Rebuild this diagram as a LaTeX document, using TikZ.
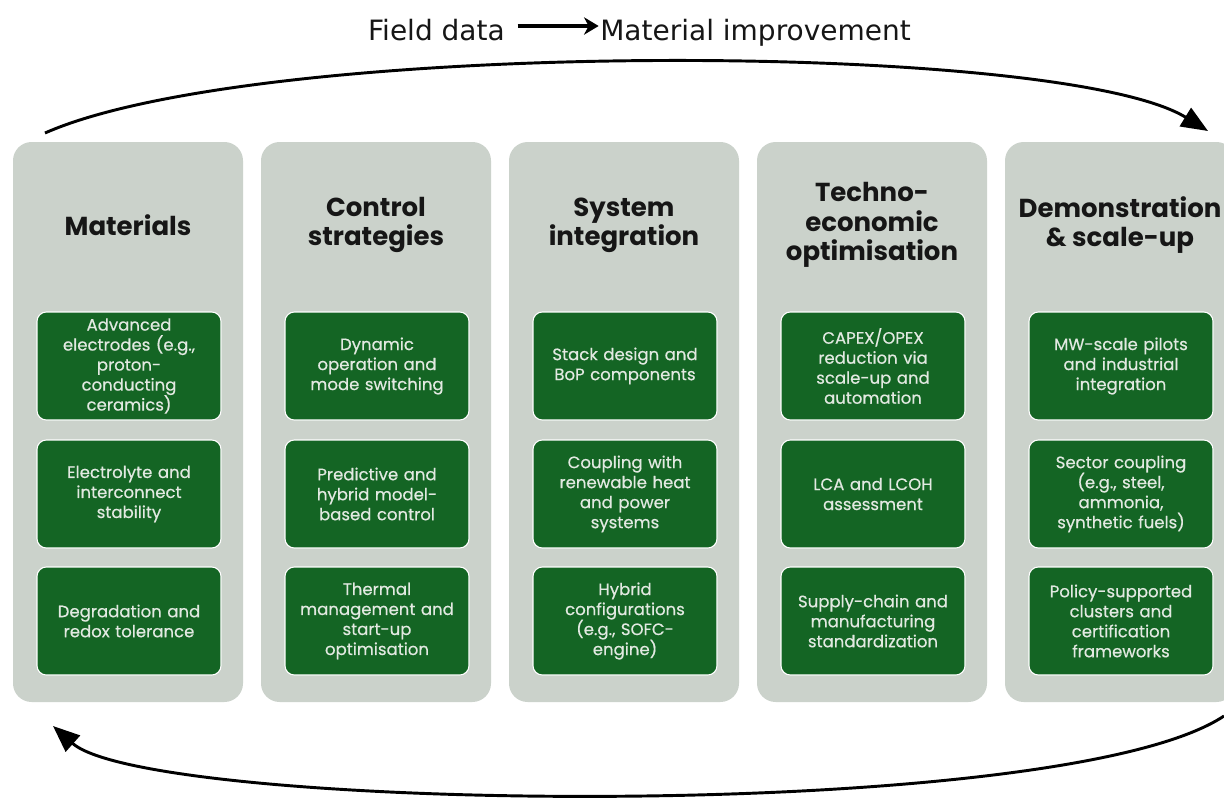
\documentclass[tikz,border=0pt]{standalone}
\usepackage{fontspec}
\setmainfont{Poppins}
\newfontfamily\boxfont{Poppins}[FakeBold=0.5]
\newfontfamily\headfont{DejaVu Sans}
\usetikzlibrary{arrows.meta}
\definecolor{panelgray}{RGB}{203,210,203}
\definecolor{boxgreen}{RGB}{20,101,36}
\definecolor{boxtext}{RGB}{226,233,225}
\definecolor{titleink}{RGB}{22,22,22}
\tikzset{
  panel/.style={fill=panelgray, draw=none, rounded corners=14pt,
    minimum width=172.5pt, minimum height=420pt, inner sep=0pt},
  coltitle/.style={font=\fontsize{19.5}{22}\selectfont\bfseries, text=titleink,
    align=center, inner sep=0pt},
  itembox/.style={fill=boxgreen, draw=white, line width=0.8pt, rounded corners=7pt,
    minimum width=138pt, minimum height=81pt, inner sep=1pt, text width=136pt,
    align=center, text=boxtext, font=\boxfont\fontsize{12.4}{15}\selectfont},
  loop/.style={line width=2.2pt, -{Triangle[length=20pt,width=16pt]}},
  heading/.style={font=\headfont\fontsize{21}{25}\selectfont, inner sep=0pt, text=titleink},
}
\begin{document}
\begin{tikzpicture}[x=0.75pt,y=-0.75pt]
\useasboundingbox (0,0) rectangle (1224,797);
\fill[white] (0,0) rectangle (1224,797);

% heading
\node[heading, anchor=base east] (fd) at (505,40) {Field data};
\node[heading, anchor=base west] (mi) at (600,40) {Material improvement};
\draw[line width=2.7pt, -{Stealth[length=11pt,width=13pt,inset=3.5pt]}]
  ([xshift=9.5pt,yshift=10.5pt]fd.base east) -- ([xshift=-1pt,yshift=10.5pt]mi.base west);

% five columns
\foreach \i/\ttl/\ba/\bb/\bc in {
  0/{Materials}/{Advanced\\electrodes (e.g.,\\proton-\\conducting\\ceramics)}/{Electrolyte and\\interconnect\\stability}/{Degradation and\\redox tolerance},
  1/{Control\\strategies}/{Dynamic\\operation and\\mode switching}/{Predictive and\\hybrid model-\\based control}/{Thermal\\management and\\start-up\\optimisation},
  2/{System\\integration}/{Stack design and\\BoP components}/{Coupling with\\renewable heat\\and power\\systems}/{Hybrid\\configurations\\(e.g., SOFC-\\engine)},
  3/{Techno-\\economic\\optimisation}/{CAPEX/OPEX\\reduction via\\scale-up and\\automation}/{LCA and LCOH\\assessment}/{Supply-chain and\\manufacturing\\standardization},
  4/{Demonstration\\\& scale-up}/{MW-scale pilots\\and industrial\\integration}/{Sector coupling\\(e.g., steel,\\ammonia,\\synthetic fuels)}/{Policy-supported\\clusters and\\certification\\frameworks}}{
  \pgfmathsetmacro{\cx}{128+248*\i}
  \node[panel] (p\i) at (\cx,422) {};
  \node[coltitle] (t\i) at (\cx,225) {\ttl};
  \node[itembox] (b\i a) at (\cx+1,366) {\ba};
  \node[itembox] (b\i b) at (\cx+1,494) {\bb};
  \node[itembox] (b\i c) at (\cx+1,621) {\bc};
}

% feedback loop
\coordinate (ts) at (45,133);
\coordinate (te) at (1208,131);
\coordinate (bs) at (1224,716);
\coordinate (be) at (53,726);
\draw[loop] (ts) .. controls (260,38) and (1060,40) .. (te);
\draw[loop] (bs) .. controls (1060,825) and (150,812) .. (be);
\end{tikzpicture}
\end{document}
